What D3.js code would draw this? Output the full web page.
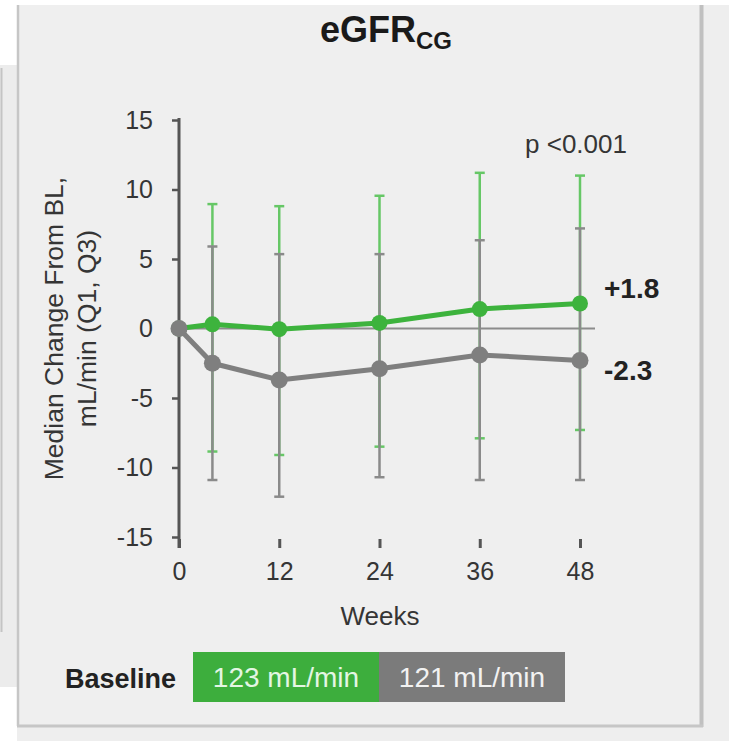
<!DOCTYPE html>
<html>
<head>
<meta charset="utf-8">
<script src="https://cdn.jsdelivr.net/npm/d3@7"></script>
<style>
  html, body { margin: 0; padding: 0; background: #ffffff; }
  svg { display: block; }
  text { font-family: "Liberation Sans", Arial, Helvetica, sans-serif; }
</style>
</head>
<body>
<svg id="chart" width="729" height="741"></svg>
<script>
// Visit weeks
const weeks = [0, 4, 12, 24, 36, 48];

// Green arm: median change from baseline with Q1 / Q3
const greenMedian = [0, 0.3, -0.05, 0.4, 1.4, 1.8];
const greenQ1 = [null, -8.85, -9.1, -8.5, -7.9, -7.3];
const greenQ3 = [null, 8.95, 8.8, 9.55, 11.2, 11.0];

// Gray arm: median change from baseline with Q1 / Q3
const grayMedian = [0, -2.5, -3.7, -2.9, -1.9, -2.3];
const grayQ1 = [null, -10.9, -12.1, -10.7, -10.9, -10.9];
const grayQ3 = [null, 5.9, 5.35, 5.35, 6.35, 7.2];

// Axis ticks
const yTicks = [-15, -10, -5, 0, 5, 10, 15];
const xTicks = [0, 12, 24, 36, 48];

// Baseline values per arm and end-of-study labels
const baselineLabels = ["123 mL/min", "121 mL/min"];
const endLabels = ["+1.8", "-2.3"];

const C = {
  green: "#3db33d",
  greenBar: "#66c766",
  gray: "#7f7f7f",
  grayBar: "#8a8a8a",
  axis: "#555555",
  text: "#353535"
};

const svg = d3.select("#chart");

// ---- slide background and panel frame ----
svg.append("rect").attr("x", 17).attr("y", 5).attr("width", 712).attr("height", 736).attr("fill", "#eeeeee");
svg.append("rect").attr("x", 0).attr("y", 65).attr("width", 17).attr("height", 622).attr("fill", "#ececec");
svg.append("line").attr("x1", 1.5).attr("x2", 1.5).attr("y1", 68).attr("y2", 632)
  .attr("stroke", "#c4c4c4").attr("stroke-width", 2);
svg.append("rect").attr("x", 18).attr("y", 5).attr("width", 683).attr("height", 720).attr("fill", "#efefef");
svg.append("line").attr("x1", 18).attr("x2", 18).attr("y1", 5).attr("y2", 726)
  .attr("stroke", "#c6c6c6").attr("stroke-width", 2.5);
svg.append("line").attr("x1", 701.5).attr("x2", 701.5).attr("y1", 5).attr("y2", 727)
  .attr("stroke", "#c0c0c0").attr("stroke-width", 4);
svg.append("line").attr("x1", 17).attr("x2", 703).attr("y1", 726).attr("y2", 726)
  .attr("stroke", "#c6c6c6").attr("stroke-width", 3);

// ---- scales ----
const x = d3.scaleLinear().domain([0, 48]).range([179, 580]);
const y = d3.scaleLinear().domain([-15, 15]).range([537, 120]);

// ---- title ----
const title = svg.append("text")
  .attr("x", 386).attr("y", 42)
  .attr("text-anchor", "middle")
  .attr("font-size", 36).attr("font-weight", "bold").attr("fill", "#1a1a1a");
title.append("tspan").text("eGFR");
title.append("tspan").attr("font-size", 24).attr("dy", 7).text("CG");

// ---- y axis ----
const yAxis = d3.axisLeft(y).tickValues(yTicks).tickFormat(d => String(d))
  .tickSize(7).tickSizeOuter(0).tickPadding(19);
const gy = svg.append("g").attr("transform", `translate(${x(0)},0)`).call(yAxis);
gy.select(".domain").remove();
gy.selectAll(".tick line").attr("stroke", C.axis).attr("stroke-width", 2.5);
gy.selectAll(".tick text").attr("font-size", 25).attr("fill", C.text)
  .attr("font-family", "'Liberation Sans', Arial, sans-serif");
svg.append("line")
  .attr("x1", x(0)).attr("x2", x(0))
  .attr("y1", y(15) - 2).attr("y2", y(-15) + 11)
  .attr("stroke", C.axis).attr("stroke-width", 3);

// ---- x axis (tick marks sit just below the -15 level) ----
const xAxis = d3.axisBottom(x).tickValues(xTicks).tickFormat(d => String(d))
  .tickSize(9).tickSizeOuter(0).tickPadding(14);
const gx = svg.append("g").attr("transform", `translate(0,${y(-15) + 2})`).call(xAxis);
gx.select(".domain").remove();
gx.selectAll(".tick line").attr("stroke", C.axis).attr("stroke-width", 3);
gx.selectAll(".tick text").attr("font-size", 25).attr("fill", C.text)
  .attr("font-family", "'Liberation Sans', Arial, sans-serif");

// ---- axis titles ----
svg.append("text")
  .attr("x", 380).attr("y", 625)
  .attr("text-anchor", "middle").attr("font-size", 26).attr("fill", C.text)
  .text("Weeks");

const yTitle = svg.append("text")
  .attr("transform", `translate(63,${y(0)}) rotate(-90)`)
  .attr("text-anchor", "middle").attr("font-size", 26.5).attr("fill", C.text);
yTitle.append("tspan").attr("x", 0).attr("y", 0).text("Median Change From BL,");
yTitle.append("tspan").attr("x", 0).attr("y", 33).text("mL/min (Q1, Q3)");

// ---- zero reference line ----
svg.append("line")
  .attr("x1", x(0)).attr("x2", x(48) + 15)
  .attr("y1", y(0)).attr("y2", y(0))
  .attr("stroke", "#8c8c8c").attr("stroke-width", 2);

// ---- error bars: green first, gray drawn over ----
function errorBars(q1, q3, color, cls) {
  const rows = weeks.map((w, i) => ({ w, lo: q1[i], hi: q3[i] })).filter(d => d.lo !== null);
  const g = svg.append("g").attr("class", cls)
    .attr("stroke", color).attr("stroke-width", 2.5).attr("fill", "none");
  g.selectAll("line.v").data(rows).join("line").attr("class", "v")
    .attr("x1", d => x(d.w)).attr("x2", d => x(d.w))
    .attr("y1", d => y(d.lo)).attr("y2", d => y(d.hi));
  g.selectAll("line.lo").data(rows).join("line").attr("class", "lo")
    .attr("x1", d => x(d.w) - 5).attr("x2", d => x(d.w) + 5)
    .attr("y1", d => y(d.lo)).attr("y2", d => y(d.lo));
  g.selectAll("line.hi").data(rows).join("line").attr("class", "hi")
    .attr("x1", d => x(d.w) - 5).attr("x2", d => x(d.w) + 5)
    .attr("y1", d => y(d.hi)).attr("y2", d => y(d.hi));
}
errorBars(greenQ1, greenQ3, C.greenBar, "bars-green");
errorBars(grayQ1, grayQ3, C.grayBar, "bars-gray");

// ---- median lines and points ----
const line = d3.line().x(d => x(d.w)).y(d => y(d.v));
function series(values, color, r) {
  const rows = weeks.map((w, i) => ({ w, v: values[i] }));
  svg.append("path").datum(rows).attr("d", line)
    .attr("fill", "none").attr("stroke", color).attr("stroke-width", 5)
    .attr("stroke-linejoin", "round");
  svg.append("g").selectAll("circle").data(rows).join("circle")
    .attr("cx", d => x(d.w)).attr("cy", d => y(d.v)).attr("r", r).attr("fill", color);
}
series(greenMedian, C.green, 8);
series(grayMedian, C.gray, 8.5);

// ---- p value and end labels ----
svg.append("text")
  .attr("x", 576).attr("y", 153)
  .attr("text-anchor", "middle").attr("font-size", 26).attr("fill", C.text)
  .text("p <0.001");

const last = weeks.length - 1;
svg.append("text")
  .attr("x", 604).attr("y", y(greenMedian[last]) - 5)
  .attr("font-size", 28).attr("font-weight", "bold").attr("fill", "#222")
  .text(endLabels[0]);
svg.append("text")
  .attr("x", 604).attr("y", y(grayMedian[last]) + 20)
  .attr("font-size", 28).attr("font-weight", "bold").attr("fill", "#222")
  .text(endLabels[1]);

// ---- baseline legend ----
svg.append("text")
  .attr("x", 65).attr("y", 688)
  .attr("font-size", 27).attr("font-weight", "bold").attr("fill", "#222")
  .text("Baseline");

const boxes = [
  { label: baselineLabels[0], fill: "#3dae3d", color: "#e4f6e4" },
  { label: baselineLabels[1], fill: "#7b7b7b", color: "#f2f2f2" }
];
const boxX = d3.scaleBand().domain(d3.range(boxes.length)).range([193, 565]);
const lg = svg.append("g");
lg.selectAll("rect").data(boxes).join("rect")
  .attr("x", (d, i) => boxX(i)).attr("y", 652)
  .attr("width", boxX.bandwidth()).attr("height", 50)
  .attr("fill", d => d.fill);
lg.selectAll("text").data(boxes).join("text")
  .attr("x", (d, i) => boxX(i) + boxX.bandwidth() / 2).attr("y", 687)
  .attr("text-anchor", "middle").attr("font-size", 28).attr("fill", d => d.color)
  .text(d => d.label);
</script>
</body>
</html>
